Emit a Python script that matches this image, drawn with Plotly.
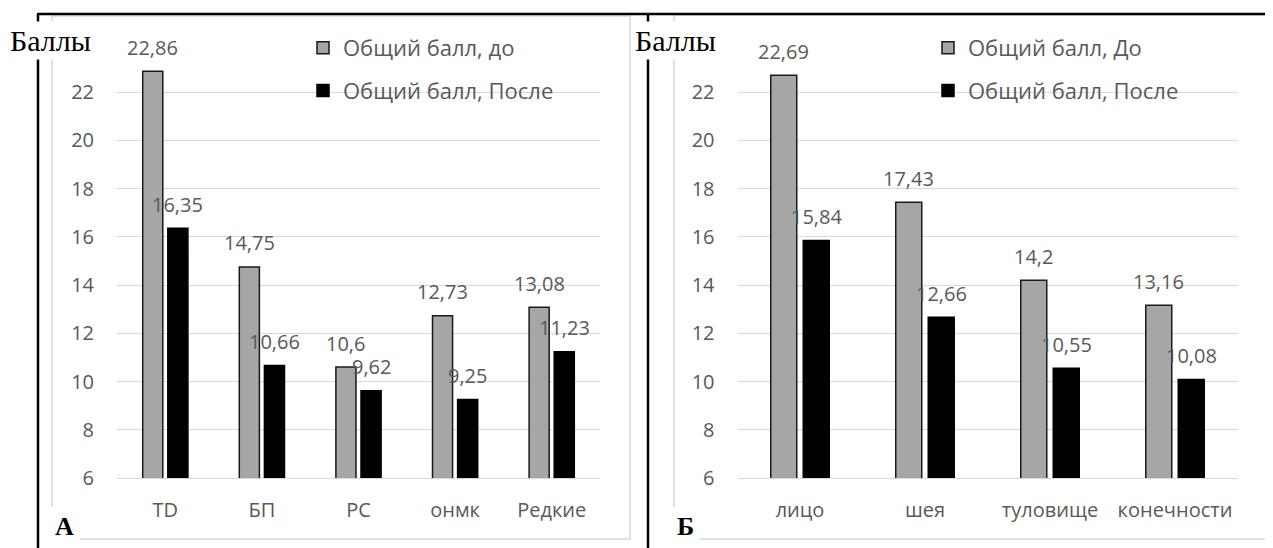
import plotly.graph_objects as go

W, H = 1273, 548
OFF = 8  # the page body adds an 8 px margin around the figure

# ---------------- data ----------------
cats_a = ["TD", "БП", "PC", "онмк", "Редкие"]
before_a = [22.86, 14.75, 10.6, 12.73, 13.08]
after_a = [16.35, 10.66, 9.62, 9.25, 11.23]
name_before_a = "Общий балл, до"
name_after_a = "Общий балл, После"

cats_b = ["лицо", "шея", "туловище", "конечности"]
before_b = [22.69, 17.43, 14.2, 13.16]
after_b = [15.84, 12.66, 10.55, 10.08]
name_before_b = "Общий балл, До"
name_after_b = "Общий балл, После"

y_ticks = [6, 8, 10, 12, 14, 16, 18, 20, 22, 24]
y_ticktext = ["6", "8", "10", "12", "14", "16", "18", "20", "22", ""]
y_title = "Баллы"
panel_a = "А"
panel_b = "Б"

# ---------------- style ----------------
GRAY = "#a6a6a6"
TXT = "#595959"
GRID = "#d9d9d9"
SANS = "Open Sans"
SERIF = "Liberation Serif"
BARGAP = 0.48
BARGROUPGAP = 0.2


def fx(px):
    return (px - OFF) / W


def fy(py):
    return 1 - (py - OFF) / H


dom_a = [117, 600]
dom_b = [737.5, 1237.5]
ydom = [fy(478), fy(43.75)]


def fmt(v):
    return f"{v:g}".replace(".", ",")


fig = go.Figure()

fig.add_trace(go.Bar(x=cats_a, y=before_a, name=name_before_a, xaxis="x", yaxis="y",
                     marker=dict(color=GRAY, line=dict(color="#1a1a1a", width=1.5)),
                     legend="legend", legendgroup="a1"))
fig.add_trace(go.Bar(x=cats_a, y=after_a, name=name_after_a, xaxis="x", yaxis="y",
                     marker=dict(color="black", line=dict(color="black", width=1.5)),
                     legend="legend", legendgroup="a2"))
fig.add_trace(go.Bar(x=cats_b, y=before_b, name=name_before_b, xaxis="x2", yaxis="y2",
                     marker=dict(color=GRAY, line=dict(color="#1a1a1a", width=1.5)),
                     legend="legend2", legendgroup="b1"))
fig.add_trace(go.Bar(x=cats_b, y=after_b, name=name_after_b, xaxis="x2", yaxis="y2",
                     marker=dict(color="black", line=dict(color="black", width=1.5)),
                     legend="legend2", legendgroup="b2"))

annotations = []


def add_labels(cats, vals, xref, yref, dom, side):
    cat_px = (dom[1] - dom[0]) / len(cats)
    slot = cat_px * (1 - BARGAP) / 2
    for c, v in zip(cats, vals):
        annotations.append(dict(x=c, y=v, xref=xref, yref=yref, text=fmt(v),
                                showarrow=False, xanchor="center", yanchor="middle",
                                xshift=side * slot / 2, yshift=24,
                                font=dict(family=SANS, size=20, color=TXT)))


add_labels(cats_a, before_a, "x", "y", dom_a, -1)
add_labels(cats_a, after_a, "x", "y", dom_a, 1)
add_labels(cats_b, before_b, "x2", "y2", dom_b, -1)
add_labels(cats_b, after_b, "x2", "y2", dom_b, 1)

for xc in (50, 675):
    annotations.append(dict(x=fx(xc), y=fy(40), xref="paper", yref="paper", text=y_title,
                            showarrow=False, xanchor="center", yanchor="middle",
                            bgcolor="white", borderpad=2,
                            font=dict(family=SERIF, size=30, color="black")))

for xc, t in [(64, panel_a), (685, panel_b)]:
    annotations.append(dict(x=fx(xc), y=fy(526), xref="paper", yref="paper",
                            text=f"<b>{t}</b>", showarrow=False, xanchor="center",
                            yanchor="middle", bgcolor="white", borderpad=5,
                            font=dict(family=SERIF, size=26, color="black")))

shapes = [
    # chart borders
    dict(type="rect", xref="paper", yref="paper", x0=fx(52), x1=fx(630), y0=fy(539), y1=fy(16),
         line=dict(color=GRID, width=1.5), layer="above"),
    dict(type="rect", xref="paper", yref="paper", x0=fx(674), x1=fx(1267), y0=fy(539), y1=fy(15),
         line=dict(color=GRID, width=1.5), layer="above"),
    # table lines
    dict(type="line", xref="paper", yref="paper", x0=fx(37), x1=fx(1290), y0=fy(14), y1=fy(14),
         line=dict(color="black", width=2.5), layer="above"),
    dict(type="line", xref="paper", yref="paper", x0=fx(38), x1=fx(38), y0=fy(14), y1=fy(560),
         line=dict(color="black", width=2.5), layer="above"),
    dict(type="line", xref="paper", yref="paper", x0=fx(648), x1=fx(648), y0=fy(14), y1=fy(560),
         line=dict(color="black", width=2.5), layer="above"),
]

yax = dict(range=[6, 24], tickvals=y_ticks, ticktext=y_ticktext, showgrid=True,
           gridcolor=GRID, gridwidth=1, zeroline=False, showline=False, ticks="",
           ticklabelstandoff=22, automargin=False,
           tickfont=dict(family=SANS, size=20, color=TXT), domain=ydom, fixedrange=True)
xax = dict(type="category", showgrid=False, showline=True, linecolor=GRID, linewidth=1,
           ticks="", ticklabelstandoff=14, automargin=False,
           tickfont=dict(family=SANS, size=20, color=TXT))

legend_common = dict(font=dict(family=SANS, size=22, color=TXT), bgcolor="rgba(0,0,0,0)",
                     traceorder="grouped", tracegroupgap=11, xanchor="left", yanchor="top",
                     borderwidth=0)

fig.update_layout(
    template="none",
    width=W, height=H,
    margin=dict(l=0, r=0, t=0, b=0, pad=0),
    paper_bgcolor="white", plot_bgcolor="rgba(0,0,0,0)",
    barmode="group", bargap=BARGAP, bargroupgap=BARGROUPGAP,
    xaxis=dict(xax, domain=[fx(dom_a[0]), fx(dom_a[1])], anchor="y"),
    yaxis=dict(yax, anchor="x"),
    xaxis2=dict(xax, domain=[fx(dom_b[0]), fx(dom_b[1])], anchor="y2"),
    yaxis2=dict(yax, anchor="x2"),
    legend=dict(legend_common, x=fx(303), y=fy(27)),
    legend2=dict(legend_common, x=fx(928), y=fy(27)),
    annotations=annotations,
    shapes=shapes,
    showlegend=True,
)

fig.write_html("out.html", config=dict(displayModeBar=False))
